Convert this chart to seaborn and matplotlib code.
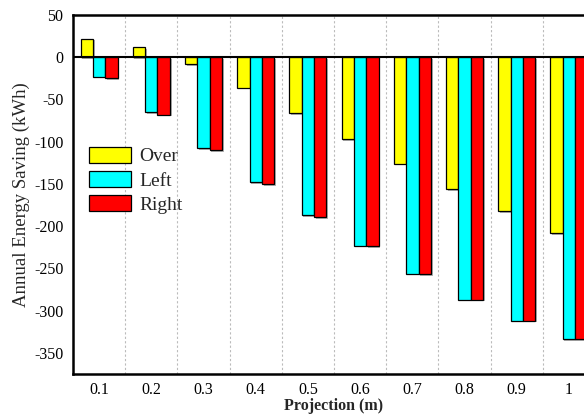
import seaborn as sns
import matplotlib.pyplot as plt
import matplotlib.patheffects as pe
from matplotlib.ticker import MultipleLocator, FixedLocator
import pandas as pd

# values
projections = ['0.1', '0.2', '0.3', '0.4', '0.5', '0.6', '0.7', '0.8', '0.9', '1']
over = [22, 12, -8, -36, -66, -97, -126, -156, -182, -208]
left = [-23, -65, -108, -148, -187, -223, -256, -287, -312, -334]
right = [-25, -68, -110, -150, -189, -224, -257, -287, -312, -334]
series = ['Over', 'Left', 'Right']
colors = ['#ffff00', '#00ffff', '#ff0000']

rows = []
for name, vals in zip(series, [over, left, right]):
    for p, v in zip(projections, vals):
        rows.append({'proj': p, 'saving': v, 'type': name})
df = pd.DataFrame(rows)

sns.set_style("white")
plt.rcParams['font.family'] = ['Liberation Serif', 'DejaVu Serif']
plt.rcParams['axes.unicode_minus'] = False

fig = plt.figure(figsize=(5.84, 4.17), dpi=100)
# axes run past the right edge, like the cropped original
ax = fig.add_axes([0.125, 0.103, 0.894, 0.861])

sns.barplot(data=df, x='proj', y='saving', hue='type', order=projections,
            hue_order=series, palette=colors, saturation=1, width=0.71,
            edgecolor='black', linewidth=0.9, ax=ax, legend=False)

for bar in ax.patches:
    bar.set_path_effects([pe.SimplePatchShadow(offset=(1.2, -1.2), shadow_rgbFace='gray', alpha=0.6),
                          pe.Normal()])

ax.set_xlim(-0.5, 9.5)
ax.set_ylim(-375, 50)
ax.axhline(0, color='black', lw=1.5, zorder=5)

# dotted separators between groups
bounds = [i + 0.5 for i in range(9)]
for b in bounds:
    ax.axvline(b, color='#bbbbbb', lw=0.8, ls=(0, (2, 2)), zorder=0)

ax.yaxis.set_major_locator(MultipleLocator(50))
ax.yaxis.set_minor_locator(MultipleLocator(25))
ax.xaxis.set_minor_locator(FixedLocator(bounds))
ax.tick_params(axis='both', which='major', direction='inout', length=7, width=1.5,
               labelsize=11.5, colors='black')
ax.tick_params(axis='both', which='minor', direction='inout', length=4, width=1.2)
ax.tick_params(axis='x', pad=2)

for side in ['left', 'bottom', 'top']:
    ax.spines[side].set_linewidth(1.8)
    ax.spines[side].set_color('black')
ax.spines['right'].set_visible(False)

ax.set_xlabel('Projection (m)', fontsize=11.5, fontweight='bold', labelpad=0)
ax.set_ylabel('Annual Energy Saving (kWh)', fontsize=13.5, labelpad=3)

handles = [plt.Rectangle((0, 0), 1, 1, facecolor=c, edgecolor='black', linewidth=0.9)
           for c in colors]
ax.legend(handles, series, loc='upper left', bbox_to_anchor=(0.015, 0.655), frameon=False,
          fontsize=14, handlelength=2.2, handleheight=0.9, labelspacing=0.28,
          handletextpad=0.4, borderaxespad=0)

fig.savefig('out.png', dpi=100, facecolor='white')
